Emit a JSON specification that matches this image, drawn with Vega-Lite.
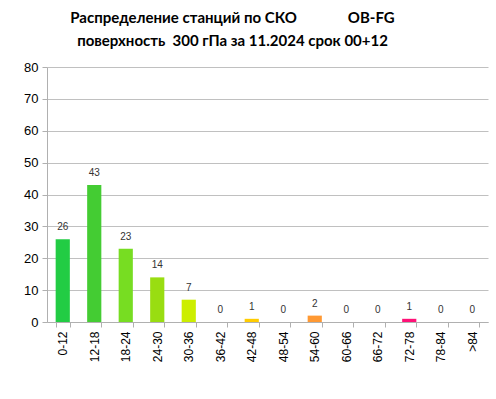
{
  "$schema": "https://vega.github.io/schema/vega-lite/v6.json",
  "width": 441,
  "height": 255,
  "autosize": {"type": "none"},
  "padding": {"left": 47, "top": 67, "right": 8, "bottom": 77},
  "background": "white",
  "title": {
    "text": ["Распределение станций по СКО\u00a0\u00a0\u00a0\u00a0\u00a0\u00a0\u00a0\u00a0\u00a0\u00a0\u00a0\u00a0\u00a0\u00a0OB-FG", "поверхность\u00a0 300 гПа за 11.2024 срок 00+12"],
    "font": "Lato",
    "fontSize": 15,
    "fontWeight": "bold",
    "color": "#000000",
    "anchor": "middle",
    "dx": -35,
    "offset": 12,
    "lineHeight": 23
  },
  "data": {
    "values": [
      {"range": "0-12", "count": 26},
      {"range": "12-18", "count": 43},
      {"range": "18-24", "count": 23},
      {"range": "24-30", "count": 14},
      {"range": "30-36", "count": 7},
      {"range": "36-42", "count": 0},
      {"range": "42-48", "count": 1},
      {"range": "48-54", "count": 0},
      {"range": "54-60", "count": 2},
      {"range": "60-66", "count": 0},
      {"range": "66-72", "count": 0},
      {"range": "72-78", "count": 1},
      {"range": "78-84", "count": 0},
      {"range": ">84", "count": 0}
    ]
  },
  "encoding": {
    "x": {
      "field": "range",
      "type": "nominal",
      "sort": null,
      "title": null,
      "scale": {"paddingInner": 0.55, "paddingOuter": 0.275},
      "axis": {
        "labelAngle": -90,
        "labelFont": "Liberation Sans",
        "labelFontSize": 12,
        "labelColor": "#000000",
        "labelPadding": 4,
        "domainColor": "#b0b0b0",
        "tickColor": "#b0b0b0",
        "tickBand": "extent",
        "tickSize": 5,
        "grid": false
      }
    },
    "y": {
      "field": "count",
      "type": "quantitative",
      "title": null,
      "scale": {"domain": [0, 80]},
      "axis": {
        "values": [0, 10, 20, 30, 40, 50, 60, 70, 80],
        "labelFont": "Liberation Sans",
        "labelFontSize": 13,
        "labelColor": "#000000",
        "labelPadding": 4,
        "domainColor": "#b0b0b0",
        "tickColor": "#b0b0b0",
        "tickSize": 5,
        "gridColor": "#c0c0c0",
        "gridWidth": 1
      }
    }
  },
  "layer": [
    {
      "mark": {"type": "bar"},
      "encoding": {
        "color": {
          "field": "range",
          "type": "nominal",
          "legend": null,
          "scale": {
            "domain": ["0-12", "12-18", "18-24", "24-30", "30-36", "36-42", "42-48", "48-54", "54-60", "60-66", "66-72", "72-78", "78-84", ">84"],
            "range": ["#22cc44", "#44cc33", "#77dd22", "#99dd11", "#ccee00", "#ddee00", "#ffcc00", "#ffbb22", "#ff9933", "#ff7744", "#ff5555", "#ff1177", "#ff1177", "#ff1177"]
          }
        }
      }
    },
    {
      "mark": {"type": "text", "dy": -12, "font": "Liberation Sans", "fontSize": 10, "color": "#333333"},
      "encoding": {"text": {"field": "count", "type": "quantitative"}}
    }
  ],
  "config": {"view": {"stroke": null}}
}
